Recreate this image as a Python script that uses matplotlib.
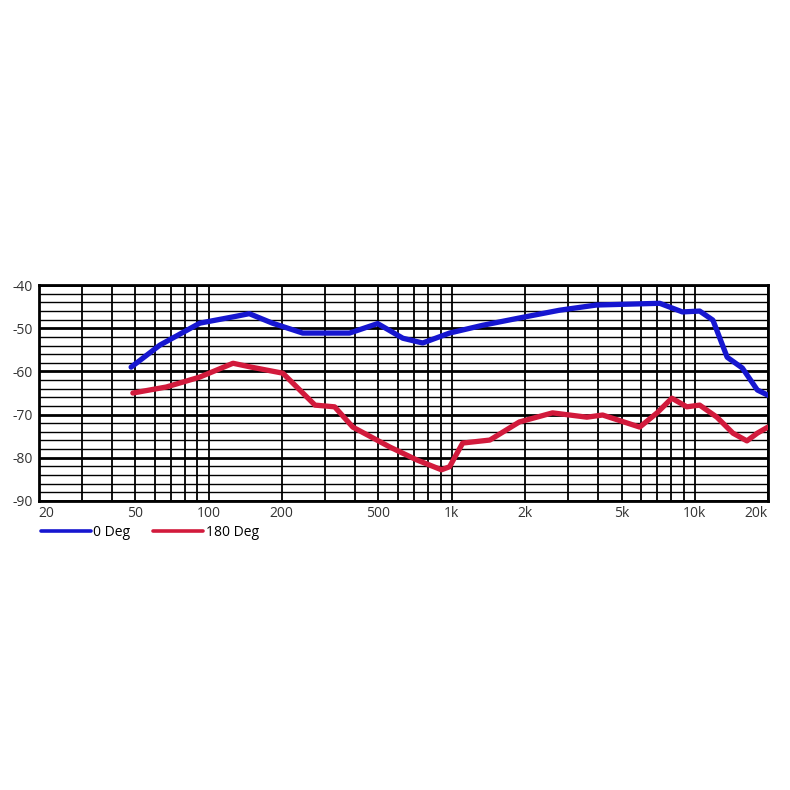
import numpy as np
import matplotlib.pyplot as plt

# 0 Deg response (Hz, dB)
freq_0deg = [48, 63, 92, 130, 147, 183, 244, 380, 496, 630, 760, 980, 1340, 1900,
             2780, 3940, 7180, 8900, 10480, 11880, 13600, 15700, 18100, 20000]
db_0deg = [-59.0, -53.9, -48.8, -47.2, -46.6, -48.8, -51.1, -51.1, -48.9, -52.3, -53.4,
           -51.1, -49.3, -47.6, -45.8, -44.6, -44.2, -46.2, -46.0, -48.1, -56.7, -59.2,
           -64.3, -65.5]

# 180 Deg response (Hz, dB)
freq_180deg = [48.8, 67, 92, 126, 150, 202, 274, 330, 392, 556, 718, 908, 980, 1110,
               1436, 1900, 2600, 3600, 4180, 5940, 7000, 8050, 9280, 10480, 12340,
               14360, 16400, 18100, 20000]
db_180deg = [-65.0, -63.6, -61.3, -58.1, -59.0, -60.4, -67.8, -68.2, -72.9, -77.5, -80.5,
             -82.8, -82.1, -76.6, -75.9, -71.7, -69.6, -70.6, -70.1, -72.9, -69.6, -66.2,
             -68.2, -67.8, -70.6, -74.3, -76.1, -74.3, -72.9]

labelled_freqs = [20, 50, 100, 200, 500, 1000, 2000, 5000, 10000, 20000]
freq_labels = ['20', '50', '100', '200', '500', '1k', '2k', '5k', '10k', '20k']

plt.rcParams['font.family'] = ['Open Sans', 'DejaVu Sans']

fig = plt.figure(figsize=(7.9, 7.9), dpi=100)
ax = fig.add_axes([0.049, 0.366, 0.923, 0.273])

# vertical grid lines at every 1..9 x decade
grid_freqs = []
for dec in [10, 100, 1000, 10000]:
    for m in range(1, 10):
        f = m * dec
        if 20 <= f <= 20000:
            grid_freqs.append(f)
for f in grid_freqs:
    ax.axvline(f, color='black', lw=1.3, zorder=1)

# horizontal grid: every 2 dB, heavier every 10 dB
for y in range(-90, -39, 2):
    ax.axhline(y, color='black', lw=2.0 if y % 10 == 0 else 1.0, zorder=1)

ax.plot(freq_0deg, db_0deg, color='#1616d0', lw=3.8, label='0 Deg',
        solid_joinstyle='round', solid_capstyle='round', zorder=3)
ax.plot(freq_180deg, db_180deg, color='#d21a3c', lw=3.8, label='180 Deg',
        solid_joinstyle='round', solid_capstyle='round', zorder=3)

ax.set_xscale('log')
ax.set_xlim(20, 20000)
ax.set_ylim(-90, -40)
ax.set_xticks(labelled_freqs)
ax.set_xticklabels(freq_labels)
ax.xaxis.set_minor_locator(plt.NullLocator())
xt = ax.get_xticklabels()
xt[0].set_ha('left')
xt[-1].set_ha('right')
ax.set_yticks(range(-90, -39, 10))
ax.set_yticklabels([str(v) for v in range(-90, -39, 10)])
ax.tick_params(length=0, labelsize=10, colors='#333333', pad=4)
for s in ax.spines.values():
    s.set_linewidth(2)

leg = ax.legend(loc='upper left', bbox_to_anchor=(-0.005, -0.085), ncol=2, frameon=False,
                handlelength=3.6, handletextpad=0.2, columnspacing=1.6, fontsize=10,
                borderaxespad=0)
for line in leg.get_lines():
    line.set_linewidth(2.6)

fig.savefig('out.png', dpi=100, facecolor='white')
